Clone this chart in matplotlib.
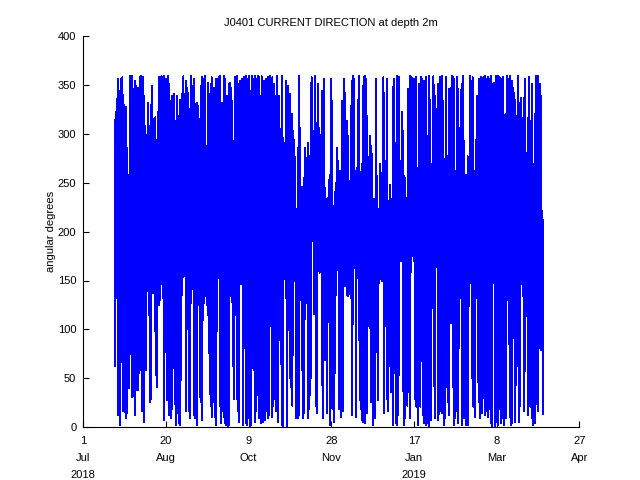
import datetime as dt
import numpy as np
import matplotlib
matplotlib.use("Agg")
import matplotlib.pyplot as plt
import matplotlib.dates as mdates

# record span (mooring J0401, 2 m bin)
record_start = dt.datetime(2018, 7, 20, 8)
record_end = dt.datetime(2019, 4, 5, 6)

# upper excursions of the direction trace (deg), read left to right
peak_deg = [
    314, 323, 356, 317, 344, 356, 358, 330, 306, 327, 286, 258, 359, 258, 359, 346,
    354, 349, 306, 347, 358, 359, 334, 358, 339, 299, 296, 332, 303, 330, 349, 311,
    315, 317, 279, 282, 358, 358, 359, 352, 359, 313, 356, 359, 351, 322, 334, 339, 341,
    299, 313, 339, 269, 335, 269, 341, 359, 341, 354, 347, 342, 325, 359, 344, 349,
    356, 294, 332, 329, 315, 315, 358, 356, 337, 359, 250, 352, 315, 341, 358, 337,
    347, 339, 356, 356, 358, 359, 303, 332, 359, 356, 320, 339, 351, 352, 347, 334,
    293, 358, 330, 359, 351, 354, 303, 356, 352, 358, 359, 335, 356, 359,
    344, 359, 354, 356, 359, 356, 359, 358, 339, 359, 342, 354, 347, 356, 358, 354,
    359, 351, 358, 351, 339, 284, 359, 339, 305, 241, 359, 296, 193, 354, 274, 349,
    341, 310, 320, 303, 294, 204, 223, 286, 359, 216, 246, 224, 255, 286, 240, 291,
    277, 238, 358, 303, 301, 359, 311, 351, 306,
    238, 299, 344, 356, 245, 214, 234, 241, 258, 356, 334, 226, 241, 250, 286, 272,
    262, 257, 334, 320, 356, 279, 313, 298, 248, 240, 354, 359, 356, 262, 265, 335,
    359, 245, 269, 349, 358, 359, 356, 277, 269, 298, 288, 246, 233, 231, 356, 257,
    223, 269, 260, 221, 358, 253, 272, 356, 231, 248, 233, 221, 346, 356, 291,
    359, 351, 358, 234, 322, 303, 257, 255, 234, 346, 339, 359, 358, 356, 243, 356,
    358, 265, 351, 231, 358, 356, 354, 286, 358, 298, 359, 335, 228, 269, 359, 339,
    250, 325, 351, 358, 341, 359, 334, 241, 358, 277, 255, 346, 347, 359, 358, 356,
    240, 358, 342, 306, 264, 351, 359, 293, 231, 258, 277, 274, 359, 337,
    358, 253, 262, 294, 339, 356, 277, 358, 356, 358, 359, 356, 347, 358, 356, 359,
    231, 351, 352, 359, 320, 359, 358, 356, 253, 358, 252, 320, 359, 341, 356, 359,
    354, 347, 342, 335, 318, 359, 332, 245, 337, 219, 337, 356, 212, 281, 358, 257,
    313, 351, 269, 320, 359, 351, 359, 351, 339, 221, 199,
]

# lower excursions of the direction trace (deg), read left to right
trough_deg = [
    62, 132, 12, 161, 2, 161, 17, 170, 9, 14, 58, 40, 75, 31, 142, 12, 38, 135, 38,
    105, 58, 16, 5, 128, 58, 139, 115, 26, 29, 137, 144, 98, 41, 128, 125, 130, 147,
    132, 7, 164, 28, 152, 12, 9, 19, 60, 24, 2, 139, 4, 2, 48, 135, 154,
    159, 16, 152, 17, 9, 127, 147, 12, 9, 2, 132, 125, 26, 7, 110, 127, 134, 125,
    115, 34, 22, 10, 26, 10, 2, 98, 176, 22, 4, 17, 10, 4, 2, 0, 2, 134, 128, 62,
    29, 125, 29, 16, 5, 146, 147, 2, 81, 4, 2, 9, 0, 2, 60, 58, 5, 16,
    33, 9, 16, 4, 5, 14, 7, 17, 9, 12, 103, 10, 22, 29, 16, 22, 5, 89, 65, 2, 0,
    156, 132, 0, 134, 50, 41, 22, 195, 149, 9, 9, 12, 130, 146, 9, 14, 111, 127, 9,
    19, 33, 199, 190, 116, 22, 14, 180, 158, 173, 43, 9, 69, 99, 14, 108,
    2, 166, 19, 5, 55, 135, 161, 19, 166, 10, 16, 171, 144, 135, 134, 166, 132, 12,
    105, 163, 10, 159, 152, 28, 19, 7, 5, 4, 147, 14, 103, 101, 26, 2, 38, 9, 77,
    28, 147, 151, 149, 154, 14, 159, 29, 16, 128, 36, 180, 2, 55, 4, 2, 12, 183,
    170, 183, 2,
    9, 43, 22, 36, 9, 159, 175, 170, 29, 21, 2, 110, 21, 187, 12, 4, 2, 10, 4, 0,
    7, 122, 166, 9, 178, 164, 7, 16, 26, 14, 2, 9, 58, 26, 12, 171, 106, 41, 2, 9,
    16, 4, 81, 132, 2, 53, 9, 2, 91, 2, 173, 147, 50, 21,
    10, 132, 135, 26, 9, 16, 14, 144, 12, 17, 10, 151, 19, 0, 149, 147, 0, 5, 2,
    19, 4, 9, 118, 2, 9, 130, 149, 10, 2, 4, 91, 5, 43, 164, 5, 22, 146, 134, 16,
    57, 159, 12, 176, 21, 9, 2, 181, 4, 187, 16, 81, 79, 135, 14,
]

t0 = mdates.date2num(record_start)
t1 = mdates.date2num(record_end)
t_peak = np.linspace(t0, t1, len(peak_deg))
t_trough = np.linspace(t0, t1, len(trough_deg))

t_all = np.concatenate([t_peak, t_trough])
v_all = np.concatenate([peak_deg, trough_deg])
order = np.argsort(t_all, kind="stable")
t_all = t_all[order]
v_all = v_all[order]

tick_dates = [dt.datetime(2018, 7, 1) + dt.timedelta(days=50 * k) for k in range(7)]
tick_labels = ["1\nJul\n2018", "20\nAug", "9\nOct", "28\nNov", "17\nJan\n2019",
               "8\nMar", "27\nApr"]

plt.rcParams["font.family"] = ["Liberation Sans", "DejaVu Sans"]

fig = plt.figure(figsize=(6.4, 4.8), dpi=100)
ax = fig.add_axes([0.13, 0.11, 0.775, 0.815])

ax.plot(t_all, v_all, color="#0000ff", lw=0.72, antialiased=False)

ax.set_xlim(mdates.date2num(tick_dates[0]), mdates.date2num(tick_dates[-1]))
ax.set_ylim(0, 400)
ax.set_xticks([mdates.date2num(d) for d in tick_dates])
ax.set_xticklabels(tick_labels, fontsize=8, linespacing=1.9)
ax.set_yticks(np.arange(0, 401, 50))
ax.tick_params(axis="both", direction="in", length=4, width=0.8, labelsize=8,
               colors="black")
ax.tick_params(axis="y", pad=5)
ax.tick_params(axis="x", pad=6)
for s in ("top", "right"):
    ax.spines[s].set_visible(False)
for s in ("left", "bottom"):
    ax.spines[s].set_linewidth(0.8)

ax.set_ylabel("angular degrees", fontsize=8, labelpad=1)
ax.set_title("J0401 CURRENT DIRECTION at depth 2m", fontsize=8, pad=7)

fig.savefig("out.png", dpi=100)
